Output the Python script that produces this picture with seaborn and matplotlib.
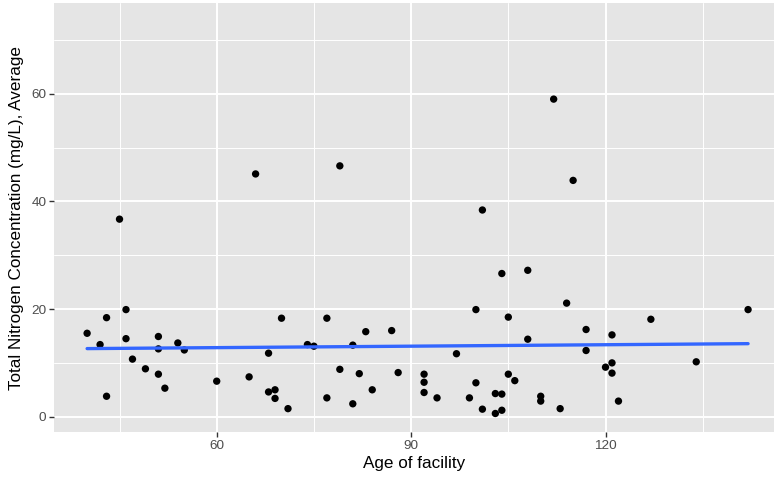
import matplotlib
matplotlib.use("Agg")
import matplotlib.pyplot as plt
from matplotlib.ticker import MultipleLocator, FixedLocator
import seaborn as sns
import pandas as pd

age = [40, 42, 43, 43, 45, 46, 46, 47, 49, 51, 51, 51, 52, 54, 55, 60, 65, 66,
       68, 68, 69, 69, 70, 71, 74, 75, 77, 77, 79, 79, 81, 81, 82, 83, 84, 87,
       88, 92, 92, 92, 94, 97, 99, 100, 100, 101, 101, 103, 103, 104, 104, 104,
       105, 105, 106, 108, 108, 110, 110, 112, 113, 114, 115, 117, 117, 120,
       121, 121, 121, 122, 127, 134, 142]
nitrogen = [15.5, 13.4, 18.4, 3.8, 36.7, 19.9, 14.5, 10.7, 8.9, 14.9, 12.6, 7.9,
            5.3, 13.7, 12.4, 6.6, 7.4, 45.1, 11.8, 4.6, 5.0, 3.4, 18.3, 1.5, 13.4,
            13.1, 18.3, 3.5, 46.6, 8.8, 13.3, 2.4, 8.0, 15.8, 5.0, 16.0, 8.2, 7.9,
            6.4, 4.5, 3.5, 11.7, 3.5, 19.9, 6.3, 38.4, 1.4, 4.3, 0.6, 26.6, 4.2,
            1.2, 18.5, 7.9, 6.7, 27.2, 14.4, 3.8, 2.9, 59.0, 1.5, 21.1, 43.9, 16.2,
            12.3, 9.2, 15.2, 10.0, 8.1, 2.9, 18.1, 10.2, 19.9]
x_ticks = [60, 90, 120]
y_ticks = [0, 20, 40, 60]
x_label = "Age of facility"
y_label = "Total Nitrogen Concentration (mg/L), Average"

df = pd.DataFrame({"age": age, "tn": nitrogen})

sns.set_theme(style="darkgrid")
plt.rcParams["font.family"] = ["Liberation Sans", "DejaVu Sans"]

fig = plt.figure(figsize=(7.74, 4.8), dpi=100)
ax = fig.add_axes([54 / 774, 48 / 480, 720 / 774, (432 - 3.3) / 480])
ax.set_facecolor("#E5E5E5")

sns.regplot(data=df, x="age", y="tn", ci=None, ax=ax,
            scatter_kws=dict(s=28, color="black", edgecolor="none", alpha=1, zorder=3),
            line_kws=dict(color="#3366FF", lw=2.4, zorder=4))

ax.set_xlim(34.89, 34.89 + 720 / 6.48)
ax.set_ylim(-2.84, 76.8)
ax.xaxis.set_major_locator(FixedLocator(x_ticks))
ax.yaxis.set_major_locator(FixedLocator(y_ticks))
ax.xaxis.set_minor_locator(MultipleLocator(15))
ax.yaxis.set_minor_locator(MultipleLocator(10))
ax.grid(which="major", color="white", lw=1.4)
ax.grid(which="minor", color="white", lw=0.7)
ax.set_axisbelow(True)
for s in ax.spines.values():
    s.set_visible(False)

ax.tick_params(axis="both", which="major", length=3.5, width=1.0, color="#333333",
               labelsize=9.7, labelcolor="#4D4D4D", pad=2, bottom=True, left=True)
ax.tick_params(axis="both", which="minor", length=0)

ax.set_xlabel(x_label, fontsize=12.3, color="black", labelpad=3)
ax.set_ylabel(y_label, fontsize=12.3, color="black", labelpad=5)

fig.savefig("out.png", dpi=100)
